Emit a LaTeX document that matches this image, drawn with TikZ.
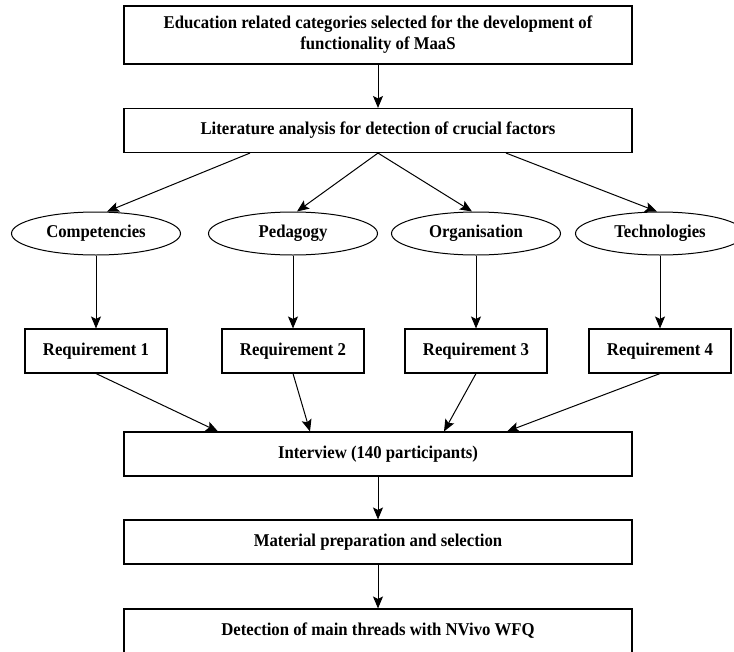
\documentclass[tikz,border=0pt]{standalone}
\usepackage{fontspec}
\setmainfont{Liberation Serif}[FakeStretch=0.93]
\usetikzlibrary{arrows.meta,shapes.geometric}

\begin{document}
\begin{tikzpicture}[x=1pt,y=-1pt,>={Stealth[length=12pt,width=10pt,inset=2.5pt]},
  every node/.style={font=\fontsize{18}{21}\selectfont\bfseries},
  stage/.style={draw,line width=1.1pt,minimum width=508pt,minimum height=44pt,inner sep=2pt,align=center},
  req/.style={draw,line width=1.1pt,minimum width=142pt,minimum height=44pt,inner sep=2pt},
  factor/.style={draw,ellipse,line width=1pt,minimum width=169pt,minimum height=43pt,inner sep=0pt},
  link/.style={->,line width=1pt}]

\useasboundingbox (0,0) rectangle (734,651);

% --- Parte alta: categorie e letteratura ---
\node[stage,minimum height=58pt] (top) at (378,35) {Education related categories selected for the development of\\functionality of MaaS};
\node[stage] (lit) at (378,130.5) {Literature analysis for detection of crucial factors};
\draw[link] (top) -- (lit);

% --- Fattori ---
\node[factor] (comp) at (96,233.5) {Competencies};
\node[factor] (peda) at (293,233.5) {Pedagogy};
\node[factor] (orga) at (476,233.5) {Organisation};
\node[factor] (tech) at (660,233.5) {Technologies};

\draw[link] ([xshift=-128pt]lit.south) -- ([xshift=11pt]comp.north);
\draw[link] (lit.south) -- ([xshift=4pt]peda.north);
\draw[link] (lit.south) -- ([xshift=-4pt]orga.north);
\draw[link] ([xshift=128pt]lit.south) -- ([xshift=-3pt]tech.north);

% --- Requisiti ---
\node[req] (req1) at (96,351) {Requirement 1};
\node[req] (req2) at (293,351) {Requirement 2};
\node[req] (req3) at (476,351) {Requirement 3};
\node[req] (req4) at (660,351) {Requirement 4};

\foreach \f/\r in {comp/req1,peda/req2,orga/req3,tech/req4}
  \draw[link] (\f) -- (\r); % fattore -> requisito

% --- Parte bassa: intervista e analisi ---
\node[stage] (intv) at (378,454) {Interview (140 participants)};
\node[stage] (mat) at (378,542) {Material preparation and selection};
\node[stage] (det) at (378,631) {Detection of main threads with NVivo WFQ};

\draw[link] (req1.south) -- ([xshift=-160pt]intv.north);
\draw[link] (req2.south) -- ([xshift=-68pt]intv.north);
\draw[link] (req3.south) -- ([xshift=66pt]intv.north);
\draw[link] (req4.south) -- ([xshift=129pt]intv.north);
\draw[link] (intv) -- (mat);
\draw[link] (mat) -- (det);

\end{tikzpicture}
\end{document}
